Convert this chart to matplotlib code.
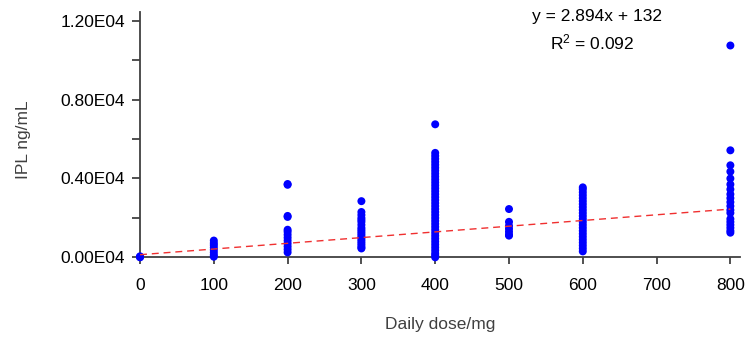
import matplotlib
matplotlib.use("Agg")
import matplotlib.pyplot as plt
from matplotlib.ticker import FixedLocator, FuncFormatter

plt.rcParams['font.family'] = ['Liberation Sans', 'DejaVu Sans']
plt.rcParams['mathtext.fontset'] = 'custom'
plt.rcParams['mathtext.rm'] = 'Liberation Sans'
plt.rcParams['mathtext.it'] = 'Liberation Sans'

# ---- data ----
dose_0 = [0, 20, 50]
dose_100 = [30, 120, 250, 380, 500, 620, 720, 850]
dose_200 = [3720, 3680, 2100, 2050, 1400, 1300, 1150, 1000, 850, 700, 550, 400, 250]
dose_300 = [2850, 2300, 2150, 2000, 1900, 1800, 1650, 1500, 1400, 1300, 1200, 1100,
            1000, 900, 800, 700, 600, 500, 450]
dose_400 = [6750, 5300, 5150, 5000, 4850, 4700, 4550, 4400, 4250, 4100, 3950, 3800,
            3650, 3500, 3350, 3200, 3050, 2900, 2750, 2600, 2450, 2300, 2150, 2000,
            1850, 1700, 1550, 1400, 1250, 1100, 950, 800, 650, 500, 350, 200, 100, 0]
dose_500 = [2450, 1800, 1600, 1450, 1300, 1150, 1100]
dose_600 = [3550, 3450, 3300, 3150, 3000, 2850, 2700, 2550, 2400, 2250, 2100, 1950,
            1800, 1650, 1500, 1350, 1200, 1050, 900, 750, 600, 450, 300]
dose_800 = [10750, 5430, 4670, 4350, 4000, 3700, 3450, 3200, 3000, 2800, 2600, 2400,
            2250, 1950, 1800, 1650, 1500, 1350, 1250]
groups = {0: dose_0, 100: dose_100, 200: dose_200, 300: dose_300, 400: dose_400,
          500: dose_500, 600: dose_600, 800: dose_800}

slope = 2.894
intercept = 132
r2 = 0.092
x_ticks = [0, 100, 200, 300, 400, 500, 600, 700, 800]
y_major = [0, 4000, 8000, 12000]
y_minor = [2000, 6000, 10000]

FS = 12.5

# ---- figure ----
fig = plt.figure(figsize=(7.52, 3.40), dpi=100)
ax = fig.add_axes([0.1862, 0.2432, 0.7978, 0.7215])

xs, ys = [], []
for d, vals in groups.items():
    xs += [d] * len(vals)
    ys += vals
ax.scatter(xs, ys, s=33, color='#0000FF', edgecolors='none', zorder=3, clip_on=False)

lx = [0, 800]
ly = [slope * v + intercept for v in lx]
ax.plot(lx, ly, color='#F03030', lw=1.0, dashes=(5, 3.5), zorder=4)

ax.set_xlim(0, 813)
ax.set_ylim(0, 12450)

for s in ['top', 'right']:
    ax.spines[s].set_visible(False)
for s in ['left', 'bottom']:
    ax.spines[s].set_color('#404040')
    ax.spines[s].set_linewidth(1.3)

ax.xaxis.set_major_locator(FixedLocator(x_ticks))
ax.yaxis.set_major_locator(FixedLocator(y_major))
ax.yaxis.set_minor_locator(FixedLocator(y_minor))
ax.yaxis.set_major_formatter(FuncFormatter(lambda v, p: f"{v/1e4:.2f}E04"))

ax.tick_params(axis='x', which='major', direction='out', length=5, width=1.1,
               color='#202020', labelsize=FS, pad=10)
ax.tick_params(axis='y', which='both', direction='out', length=5.8, width=1.1,
               color='#202020', labelsize=FS, pad=5)

fig.text(440 / 752, 1 - 325 / 340, 'Daily dose/mg', fontsize=FS, color='#404040',
         ha='center', va='center')
fig.text(24 / 752, 1 - 140 / 340, 'IPL ng/mL', fontsize=FS, color='#404040',
         ha='center', va='center', rotation=90)

fig.text(597 / 752, 1 - 16 / 340, f"y = {slope}x + {intercept}", fontsize=FS,
         ha='center', va='center')
fig.text(592 / 752, 1 - 42 / 340, "R$^{2}$" + f" = {r2:.3f}", fontsize=FS,
         ha='center', va='center')

fig.savefig('out.png', dpi=100)
